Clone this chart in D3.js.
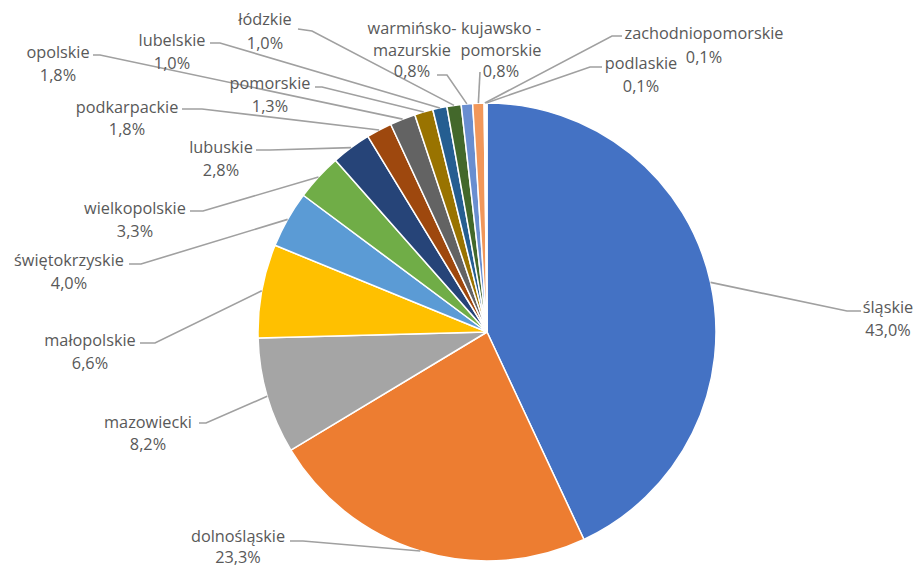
<!DOCTYPE html>
<html lang="pl">
<head>
<meta charset="utf-8">
<script src="https://cdn.jsdelivr.net/npm/d3@7"></script>
<style>
  html, body { margin: 0; padding: 0; background: #ffffff; }
  svg { display: block; }
  .lbl { font-family: "Open Sans", "Noto Sans", sans-serif; font-size: 16.3px; fill: #595959; }
</style>
</head>
<body>
<svg id="chart" width="918" height="569"></svg>
<script>
// Regions, in clockwise order from 12 o'clock
const regions = [
  "śląskie", "dolnośląskie", "mazowiecki", "małopolskie", "świętokrzyskie",
  "wielkopolskie", "lubuskie", "podkarpackie", "opolskie", "pomorskie",
  "lubelskie", "łódzkie", "warmińsko-mazurskie", "kujawsko-pomorskie",
  "zachodniopomorskie", "podlaskie"
];
// Share of each region, in percent
const shares = [43.0, 23.3, 8.2, 6.6, 4.0, 3.3, 2.8, 1.8, 1.8, 1.3, 1.0, 1.0, 0.8, 0.8, 0.1, 0.1];
// How each region name is broken into lines
const nameLines = [
  ["śląskie"], ["dolnośląskie"], ["mazowiecki"], ["małopolskie"], ["świętokrzyskie"],
  ["wielkopolskie"], ["lubuskie"], ["podkarpackie"], ["opolskie"], ["pomorskie"],
  ["lubelskie"], ["łódzkie"], ["warmińsko-", "mazurskie"], ["kujawsko -", "pomorskie"],
  ["zachodniopomorskie"], ["podlaskie"]
];
// Slice palette
const palette = [
  "#4472C4", "#ED7D31", "#A5A5A5", "#FFC000", "#5B9BD5", "#70AD47", "#264478", "#9E480E",
  "#636363", "#997300", "#255E91", "#43682B", "#698ED0", "#F1975A", "#B7B7B7", "#FFCD33"
];

// Label placement: text centre, first line y, line gap, leader attach point and elbow
const labelLayout = [
  { x: 888, y: 307, gap: 23, attach: [861, 311], elbow: [847, 311] },
  { x: 238, y: 536, gap: 21, attach: [290, 541], elbow: [303, 541] },
  { x: 148, y: 422, gap: 22, attach: [199, 423], elbow: [206, 423] },
  { x: 90,  y: 340, gap: 23, attach: [140, 343], elbow: [155, 343] },
  { x: 69,  y: 260, gap: 23, attach: [129, 264], elbow: [141, 264] },
  { x: 135, y: 208, gap: 23, attach: [190, 211], elbow: [203, 211] },
  { x: 221, y: 147, gap: 23, attach: [256, 150], elbow: [270, 150] },
  { x: 127, y: 107, gap: 22, attach: [182, 109], elbow: [202, 109] },
  { x: 58,  y: 52,  gap: 23, attach: [93, 55],   elbow: [100, 55] },
  { x: 270, y: 83,  gap: 23, attach: [315, 87],  elbow: [322, 87] },
  { x: 172, y: 40,  gap: 23, attach: [210, 43],  elbow: [220, 43] },
  { x: 265, y: 19,  gap: 24, attach: [298, 29],  elbow: [312, 31] },
  { x: 412, y: 28,  gap: 21.5, attach: [437, 75],  elbow: [447, 75] },
  { x: 501, y: 28,  gap: 21.5, attach: [480, 72],  elbow: [480, 72] },
  { x: 704, y: 33,  gap: 24, attach: [622, 36],  elbow: [612, 36] },
  { x: 641, y: 63,  gap: 23, attach: [602, 67],  elbow: [590, 67] }
];

const cx = 487, cy = 332, radius = 229;

const data = regions.map((name, i) => ({
  name, value: shares[i], lines: nameLines[i], color: palette[i], layout: labelLayout[i]
}));

const svg = d3.select("#chart");
const g = svg.append("g").attr("transform", `translate(${cx},${cy})`);

const pie = d3.pie().sort(null).value(d => d.value).startAngle(0).endAngle(2 * Math.PI);
const arcs = pie(data);
const arc = d3.arc().innerRadius(0).outerRadius(radius);
const edge = d3.arc().innerRadius(radius).outerRadius(radius);

// Slices
g.selectAll("path.slice")
  .data(arcs)
  .join("path")
  .attr("class", "slice")
  .attr("d", arc)
  .attr("fill", d => d.data.color)
  .attr("stroke", "#ffffff")
  .attr("stroke-width", 1.5)
  .attr("stroke-linejoin", "round");

// Leader lines from the slice rim to each label
const fmt = v => d3.format(".1f")(v).replace(".", ",") + "%";
svg.selectAll("polyline.leader")
  .data(arcs)
  .join("polyline")
  .attr("class", "leader")
  .attr("points", d => {
    const [ex, ey] = edge.centroid(d);
    const L = d.data.layout;
    return [[cx + ex, cy + ey], L.elbow, L.attach].map(p => p.join(",")).join(" ");
  })
  .attr("fill", "none")
  .attr("stroke", "#a0a0a0")
  .attr("stroke-width", 1.6);

// Labels: region name lines followed by the share
const labels = svg.selectAll("text.lbl")
  .data(arcs)
  .join("text")
  .attr("class", "lbl")
  .attr("text-anchor", "middle");
labels.each(function(d) {
  const L = d.data.layout;
  const rows = d.data.lines.concat([fmt(d.data.value)]);
  d3.select(this).selectAll("tspan")
    .data(rows)
    .join("tspan")
    .attr("x", L.x)
    .attr("y", (r, k) => L.y + k * L.gap)
    .attr("dominant-baseline", "central")
    .text(r => r);
});
</script>
</body>
</html>
